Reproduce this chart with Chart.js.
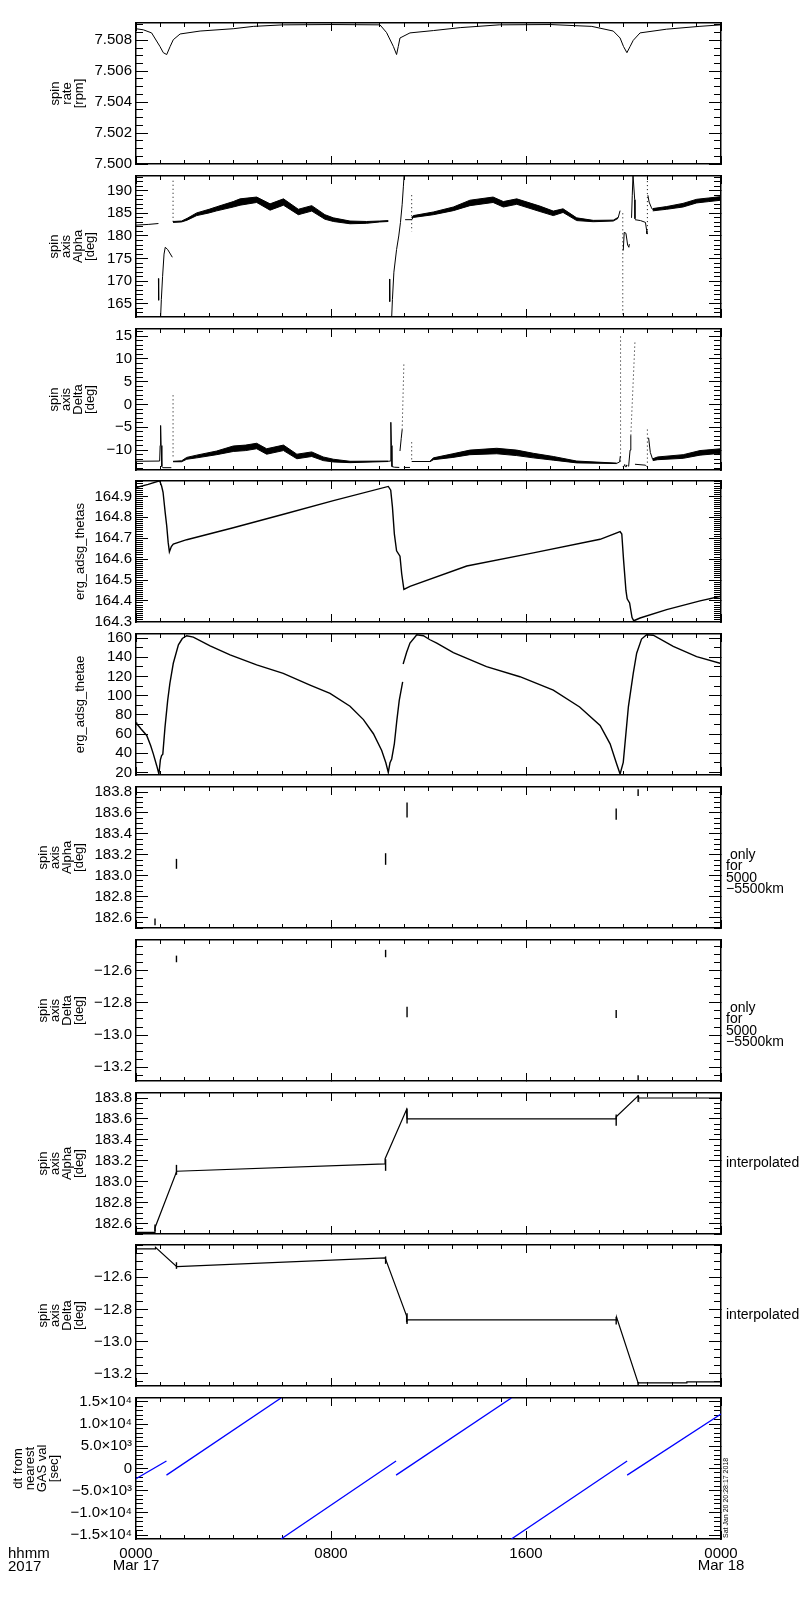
<!DOCTYPE html>
<html>
<head>
<meta charset="utf-8">
<title>ERG spin axis summary 2017-03-17</title>
<script src="https://cdn.jsdelivr.net/npm/chart.js@4.4.0/dist/chart.umd.min.js"></script>
<style>
  body { margin: 0; background: #fff; }
  #page { position: relative; width: 800px; height: 1600px; background: #fff; overflow: hidden; }
  .panel { position: absolute; left: 0; width: 800px; }
</style>
</head>
<body>
<div id="page"></div>
<script>
// time axis: hours after 0000 UT Mar 17 2017
const hourTicks = [0, 8, 16, 24];
const hourLabels = [["0000", "Mar 17"], "0800", "1600", ["0000", "Mar 18"]];

// tick labels per panel
const rateTicks = [7.500, 7.502, 7.504, 7.506, 7.508];
const alphaTicks = [165, 170, 175, 180, 185, 190];
const deltaTicks = [-10, -5, 0, 5, 10, 15];
const thetasTicks = [164.3, 164.4, 164.5, 164.6, 164.7, 164.8, 164.9];
const thetaeTicks = [20, 40, 60, 80, 100, 120, 140, 160];
const alpha2Ticks = [182.6, 182.8, 183.0, 183.2, 183.4, 183.6, 183.8];
const delta2Ticks = [-13.2, -13.0, -12.8, -12.6];
const dtTicks = [-15000, -10000, -5000, 0, 5000, 10000, 15000];

// panel 1: spin rate [rpm]
const spinRate = [[0,7.50875],[0.3,7.50868],[0.64,7.50848],[0.98,7.50761],[1.12,7.5072],[1.26,7.50708],
  [1.4,7.5076],[1.53,7.50804],[1.81,7.50841],[2.63,7.5086],[3.99,7.50875],[4.81,7.5089],[6.04,7.509],
  [8,7.50902],[10.01,7.509],[10.28,7.5085],[10.56,7.5076],[10.69,7.50708],[10.76,7.5076],[10.83,7.50815],
  [11.24,7.50848],[12.2,7.50863],[13.3,7.50882],[14.9,7.509],[17,7.50902],[18.7,7.5089],[19.58,7.5086],
  [19.86,7.50815],[20.0,7.5076],[20.14,7.5072],[20.27,7.5076],[20.4,7.508],[20.68,7.50848],[21.77,7.50872],
  [23.1,7.5089],[24,7.509]];

// panel 2: spin axis alpha [deg]
const alphaLines = [
  [[0,182.4],[0.5,182.55],[0.92,182.75]],
  [[0.92,170.6],[0.93,165.8]],
  [[1.01,162.2],[1.04,166],[1.09,171],[1.15,176],[1.2,177.5],[1.3,177],[1.49,175.3]],
  [[10.4,170.5],[10.41,165.5]],
  [[10.49,162.2],[10.52,166],[10.58,172],[10.69,177],[10.78,180],[10.85,183],[10.92,187],[10.97,191],[11.0,193.5]],
  [[11.04,183.6],[11.31,183.6]],
  [[19.78,184],[19.86,185.6]],
  [[19.99,176.8],[20.03,180.8],[20.1,180.6],[20.17,178],[20.22,177.5],[20.24,178.2]],
  [[20.33,184],[20.36,189],[20.39,193.5],[20.43,193.5],[20.46,188],[20.47,183.8]],
  [[20.47,183.6],[20.7,183.4],[20.9,183.0],[20.95,181.2],[20.96,180.5]],
  [[21.0,189],[21.05,187.5],[21.15,186.2],[21.2,185.8]]
];
const alphaDots = [
  [[1.52,192.2],[1.52,182.6]],
  [[11.31,189],[11.31,181]],
  [[19.97,185],[19.97,162]],
  [[20.98,193],[20.98,180]]
];
// [hour, lower edge, upper edge] of the scattered band
const alphaBands = [
  [[1.52,183.0,183.2],[1.87,183.1,183.3],[2.1,183.5,183.9],[2.49,184.5,185.1],[3.0,185.1,185.9],
   [3.31,185.55,186.45],[3.99,186.4,187.6],[4.27,186.8,188.2],[4.95,187.4,188.6],[5.5,185.7,187.1],
   [6.05,186.8,188.2],[6.66,184.7,185.9],[7.21,185.5,186.7],[7.75,183.7,184.7],[8.1,183.2,184.0],
   [8.78,182.7,183.3],[9.46,182.8,183.2],[10.0,183.1,183.3],[10.35,183.2,183.4]],
  [[11.31,183.6,184.0],[11.38,184.1,184.5],[12.2,184.7,185.3],[13.02,185.6,186.4],[13.7,186.7,187.9],
   [14.65,187.4,188.6],[15.07,186.4,187.6],[15.62,187.0,188.2],[16.57,185.4,186.6],[17.12,184.5,185.5],
   [17.52,185.2,186.0],[18.08,183.4,184.0],[18.76,183.15,183.45],[19.58,183.3,183.5],[19.78,183.9,184.1]],
  [[21.2,185.55,186.05],[21.77,185.9,186.5],[22.44,186.4,187.2],[23.0,187.3,188.1],[23.5,187.6,188.4],
   [24,187.9,188.7]]
];

// panel 3: spin axis delta [deg]
const deltaLines = [
  [[0,-12.45],[0.97,-12.4],[0.99,-9],[1.01,-4.6],[1.03,-9],[1.06,-13.6],[1.1,-13.85],[1.45,-13.85]],
  [[10.35,-12.45],[10.43,-12.4],[10.45,-8],[10.46,-3.9],[10.48,-9],[10.5,-13.6],[10.6,-13.75],[10.8,-13.8]],
  [[10.83,-10.2],[10.88,-7.5],[10.92,-5.5]],
  [[10.99,-13.8],[11.24,-13.8]],
  [[11.31,-12.5],[12.06,-12.5]],
  [[19.72,-12.9],[19.84,-12.6],[19.87,-11.3]],
  [[20.21,-13.6],[20.27,-10],[20.3,-6.8]],
  [[20.47,-13.1],[20.9,-13.3],[20.95,-13.6]],
  [[21.03,-7.3],[21.1,-10.5],[21.2,-12.1]]
];
const deltaDots = [
  [[1.52,2.0],[1.52,-12]],
  [[10.92,-5.5],[10.99,9]],
  [[11.31,-8.3],[11.31,-12.5]],
  [[19.88,14.9],[19.88,-13]],
  [[20.3,-6.8],[20.47,13.8]],
  [[20.98,-5.5],[20.98,-13]]
];
const deltaSpots = [[20.0,-13.6],[20.05,-13.3],[20.1,-13.6],[20.13,-13.4]];
const deltaBands = [
  [[1.52,-12.55,-12.45],[1.87,-12.55,-12.35],[2.08,-12.0,-11.6],[2.49,-11.7,-11.1],[3.31,-11.0,-10.2],
   [3.99,-10.3,-9.1],[4.5,-10.1,-8.9],[4.95,-9.7,-8.5],[5.36,-10.9,-9.7],[6.05,-10.1,-8.9],
   [6.6,-11.9,-10.9],[7.21,-11.4,-10.4],[7.68,-12.3,-11.5],[8.1,-12.6,-12.0],[8.78,-12.75,-12.45],
   [10.35,-12.5,-12.4]],
  [[12.06,-12.55,-12.45],[12.2,-12.1,-11.7],[13.0,-11.6,-10.8],[13.7,-11.0,-10.0],[14.8,-10.8,-9.6],
   [15.62,-11.2,-10.0],[16.3,-11.7,-10.7],[17.12,-12.2,-11.4],[18.08,-12.8,-12.4],[19.72,-12.95,-12.85]],
  [[21.2,-12.3,-11.9],[21.4,-12.1,-11.5],[22.45,-11.8,-11.0],[23.14,-11.1,-10.1],[24,-10.7,-9.7]]
];

// panel 4: erg_adsg_thetas
const thetas = [[0,164.943],[0.5,164.958],[0.97,164.975],[1.05,164.95],[1.11,164.92],[1.2,164.82],
  [1.26,164.76],[1.32,164.68],[1.37,164.635],[1.45,164.66],[1.53,164.672],[2.08,164.693],[3.99,164.75],
  [6.05,164.815],[8.1,164.88],[10.35,164.948],[10.45,164.93],[10.52,164.85],[10.6,164.72],[10.69,164.64],
  [10.83,164.614],[10.9,164.53],[10.99,164.455],[11.24,164.47],[13.57,164.567],[16.3,164.63],
  [19.04,164.695],[19.86,164.732],[19.93,164.72],[20.0,164.6],[20.1,164.45],[20.15,164.41],[20.25,164.39],
  [20.35,164.32],[20.42,164.305],[20.68,164.318],[21.77,164.358],[23.14,164.4],[24,164.422]];

// panel 5: erg_adsg_thetae
const thetaeLines = [
  [[0,72],[0.03,70.8],[0.2,65.5],[0.44,58.5],[0.6,48],[0.71,39.3],[0.85,27],[0.94,18.3],[1.0,33],
   [1.05,37.5],[1.1,39],[1.19,67.2],[1.3,95],[1.39,112.8],[1.53,133.7],[1.74,152.9],[1.9,159.5],
   [2.08,162.4],[2.35,161],[3.04,151.9],[3.86,142.5],[4.95,132],[6.04,123.2],[7.14,111],[7.96,102.3],
   [8.78,88.9],[9.33,75],[9.74,60.3],[10.08,42.8],[10.25,30],[10.35,20],[10.42,30],[10.49,34],
   [10.6,50],[10.7,74],[10.8,95],[10.94,114.4]],
  [[10.96,133],[11.1,145],[11.24,154.7],[11.52,163.4],[11.79,162.4],[12.06,158.2],[12.34,154.7],
   [13.02,144.9],[14.38,130.2],[15.75,119.7],[17.12,105.7],[18.2,88.2],[19.04,69],[19.45,49.8],
   [19.72,28.8],[19.86,18.3],[19.99,30.5],[20.2,88.2],[20.4,123.2],[20.54,144.2],[20.74,158.9],
   [20.95,163.4],[21.22,162.9],[22.04,151.2],[23.0,140.7],[24,133.5]]
];

// panels 6/7: values only for 5000-5500 km  [hour, low, high]
const alphaOnly = [[0.78,182.527,182.591],[1.66,183.066,183.161],[10.24,183.104,183.215],
  [11.12,183.557,183.7],[19.7,183.534,183.642],[20.6,183.762,183.826]];
const deltaOnly = [[1.66,-12.548,-12.507],[10.24,-12.517,-12.471],[11.12,-12.89,-12.824],
  [19.7,-12.894,-12.845],[20.6,-13.285,-13.25]];

// panels 8/9: interpolated
const alphaInterp = [[0,182.516],[0.78,182.516],[0.78,182.56],[1.67,183.1],[10.22,183.17],[10.22,183.22],
  [11.1,183.69],[11.12,183.6],[19.7,183.6],[19.7,183.62],[20.6,183.82],[20.62,183.8],[24,183.8]];
const deltaInterp = [[0,-12.424],[0.78,-12.424],[0.8,-12.414],[1.67,-12.534],[10.22,-12.48],[11.1,-12.84],
  [11.1,-12.88],[11.12,-12.865],[19.7,-12.865],[19.72,-12.85],[20.6,-13.256],[22.6,-13.256],[22.6,-13.25],
  [24,-13.25]];

// panel 10: dt from nearest GAS val [sec]
const dtLines = [
  [[0,-2300],[1.25,1700]],
  [[1.25,-1500],[5.95,15900]],
  [[5.95,-15900],[10.67,1700]],
  [[10.67,-1500],[15.4,15900]],
  [[15.4,-15900],[20.15,1700]],
  [[20.15,-1500],[24,12300]]
];

// ---------------------------------------------------------------
const FONT = '"Liberation Sans", Arial, sans-serif';
Chart.defaults.font.family = FONT;
Chart.defaults.color = "#000";

const PLOT_LEFT = 136, PLOT_RIGHT = 721, FIRST_TOP = 23, STEP = 152.8, PLOT_H = 141;
const XLABEL_H = 40; // room under the last panel for the time labels
const SUP = { "0": "\u2070", "1": "\u00b9", "2": "\u00b2", "3": "\u00b3", "4": "\u2074", "5": "\u2075",
  "6": "\u2076", "7": "\u2077", "8": "\u2078", "9": "\u2079" };

const minus = (s) => String(s).replace("-", "\u2212");
function sci(v) {
  if (v === 0) return "0";
  const a = Math.abs(v);
  const e = Math.floor(Math.log10(a) + 1e-9);
  const m = (a / Math.pow(10, e)).toFixed(1);
  return (v < 0 ? "\u2212" : "") + m + "\u00d710" + String(e).split("").map((c) => SUP[c]).join("");
}

function pts(arr) {
  return arr.map((p) => ({ x: p[0], y: p[1] }));
}
function lineSet(arr, opts) {
  return Object.assign({ data: pts(arr), borderColor: "#000", borderWidth: 1, pointRadius: 0,
    fill: false, xAxisID: "x", yAxisID: "y" }, opts || {});
}
function bandSets(arr) {
  return [
    lineSet(arr.map((p) => [p[0], p[2]])),
    lineSet(arr.map((p) => [p[0], p[1]]), { fill: "-1", backgroundColor: "#000" })
  ];
}
function markSets(arr) {
  return arr.map((m) => lineSet([[m[0], m[1]], [m[0], m[2]]], { borderWidth: 1.4 }));
}
function dotSets(arr) {
  return arr.map((s) => lineSet(s, { borderDash: [1, 3] }));
}

// scale helpers
function fixSize(size, horizontal) {
  return function (scale) {
    if (horizontal) scale.height = size;
    else scale.width = size;
    scale.paddingLeft = scale.paddingRight = scale.paddingTop = scale.paddingBottom = 0;
  };
}
function listTicks(values) {
  return function (scale) {
    scale.ticks = values
      .filter((v) => v >= scale.min - 1e-9 && v <= scale.max + 1e-9)
      .map((v) => ({ value: v }));
  };
}
function stepTicks(step) {
  return function (scale) {
    const out = [];
    for (let k = Math.ceil(scale.min / step - 1e-6); k * step <= scale.max + 1e-9; k++) {
      out.push({ value: +(k * step).toFixed(6) });
    }
    scale.ticks = out;
  };
}
function tickGrid(len) {
  return { display: true, drawOnChartArea: false, drawTicks: true, tickLength: -len,
    tickColor: "#000", tickWidth: 1 };
}
const BOX = { display: true, color: "#000", width: 1.5 };
const NOBOX = { display: false };

function buildScales(p, last) {
  const xs = { type: "linear", min: 0, max: 24 };
  return {
    x: Object.assign({}, xs, {
      position: "bottom", weight: 1, afterBuildTicks: listTicks(hourTicks),
      afterFit: fixSize(last ? XLABEL_H : 0, true),
      grid: tickGrid(8), border: BOX,
      ticks: { display: last, autoSkip: false, maxRotation: 0, minRotation: 0, padding: 16,
        font: { size: 15, lineHeight: 0.85 }, color: "#000",
        callback: (v) => hourLabels[hourTicks.indexOf(v)] }
    }),
    xMinor: Object.assign({}, xs, {
      position: "bottom", weight: 0, afterBuildTicks: stepTicks(1), afterFit: fixSize(0, true),
      grid: tickGrid(4), border: NOBOX, ticks: { display: false }
    }),
    xTop: Object.assign({}, xs, {
      position: "top", weight: 1, afterBuildTicks: listTicks(hourTicks), afterFit: fixSize(0, true),
      grid: tickGrid(8), border: BOX, ticks: { display: false }
    }),
    xTopMinor: Object.assign({}, xs, {
      position: "top", weight: 0, afterBuildTicks: stepTicks(1), afterFit: fixSize(0, true),
      grid: tickGrid(4), border: NOBOX, ticks: { display: false }
    }),
    y: {
      type: "linear", position: "left", weight: 1, min: p.min, max: p.max,
      afterBuildTicks: listTicks(p.major), afterFit: fixSize(PLOT_LEFT, false),
      grid: tickGrid(12), border: BOX,
      ticks: { autoSkip: false, padding: 16, font: { size: 15 }, color: "#000", callback: p.fmt },
      title: { display: true, text: p.title, color: "#000", font: { size: 13, lineHeight: "12px" },
        padding: { top: p.titleX - 6, bottom: 0 } }
    },
    yMinor: {
      type: "linear", position: "left", weight: 0, min: p.min, max: p.max,
      afterBuildTicks: stepTicks(p.minor), afterFit: fixSize(0, false),
      grid: tickGrid(7), border: NOBOX, ticks: { display: false }
    },
    yRight: {
      type: "linear", position: "right", weight: 1, min: p.min, max: p.max,
      afterBuildTicks: listTicks(p.major), afterFit: fixSize(800 - PLOT_RIGHT, false),
      grid: tickGrid(12), border: BOX, ticks: { display: false }
    },
    yRightMinor: {
      type: "linear", position: "right", weight: 0, min: p.min, max: p.max,
      afterBuildTicks: stepTicks(p.minor), afterFit: fixSize(0, false),
      grid: tickGrid(7), border: NOBOX, ticks: { display: false }
    }
  };
}

// extra annotations drawn next to the plot box
const notes = {
  id: "notes",
  afterDraw(chart, args, o) {
    const ctx = chart.ctx, a = chart.chartArea;
    ctx.save();
    ctx.fillStyle = "#000";
    if (o.right) {
      ctx.font = "14px " + FONT;
      ctx.textAlign = "left";
      ctx.textBaseline = "middle";
      o.right.forEach((t, i) => ctx.fillText(t, a.right + 5, a.top + o.rightY + i * 11.5));
    }
    if (o.stamp) {
      ctx.save();
      ctx.translate(a.right + 5, a.bottom - 1);
      ctx.rotate(-Math.PI / 2);
      ctx.font = "7px " + FONT;
      ctx.textAlign = "left";
      ctx.textBaseline = "middle";
      ctx.fillText(o.stamp, 0, 0);
      ctx.restore();
    }
    if (o.corner) {
      ctx.font = "15px " + FONT;
      ctx.textAlign = "left";
      ctx.textBaseline = "middle";
      o.corner.forEach((t, i) => ctx.fillText(t, 8, a.bottom + 15 + i * 12.5));
    }
    ctx.restore();
  }
};

const ONLY = [" only", "for", "5000", "\u22125500km"];
const panels = [
  { title: ["spin", "rate", "[rpm]"], titleX: 55, min: 7.5, max: 7.50912, major: rateTicks, minor: 0.0005,
    fmt: (v) => v.toFixed(3), sets: [lineSet(spinRate)] },
  { title: ["spin", "axis", "Alpha", "[deg]"], titleX: 54, min: 162.1, max: 193.25, major: alphaTicks, minor: 1,
    fmt: (v) => String(v),
    sets: [].concat(alphaLines.map((s) => lineSet(s)), dotSets(alphaDots), ...alphaBands.map(bandSets)) },
  { title: ["spin", "axis", "Delta", "[deg]"], titleX: 54, min: -14.36, max: 16.55, major: deltaTicks, minor: 1,
    fmt: (v) => minus(v),
    sets: [].concat(deltaLines.map((s) => lineSet(s)), dotSets(deltaDots),
      [lineSet(deltaSpots, { showLine: false, pointRadius: 0.8, pointBackgroundColor: "#000", pointBorderWidth: 0 })],
      ...deltaBands.map(bandSets)) },
  { title: "erg_adsg_thetas", titleX: 80, min: 164.299, max: 164.974, major: thetasTicks, minor: 0.01,
    fmt: (v) => v.toFixed(1), sets: [lineSet(thetas, { borderWidth: 1.4 })] },
  { title: "erg_adsg_thetae", titleX: 80, min: 17.3, max: 164.2, major: thetaeTicks, minor: 10,
    fmt: (v) => String(v), sets: thetaeLines.map((s) => lineSet(s, { borderWidth: 1.4 })) },
  { title: ["spin", "axis", "Alpha", "[deg]"], titleX: 43, min: 182.5, max: 183.848, major: alpha2Ticks, minor: 0.05,
    fmt: (v) => v.toFixed(1), sets: markSets(alphaOnly), right: ONLY, rightY: 68 },
  { title: ["spin", "axis", "Delta", "[deg]"], titleX: 43, min: -13.285, max: -12.41, major: delta2Ticks, minor: 0.05,
    fmt: (v) => minus(v.toFixed(1)), sets: markSets(deltaOnly), right: ONLY, rightY: 68 },
  { title: ["spin", "axis", "Alpha", "[deg]"], titleX: 43, min: 182.5, max: 183.848, major: alpha2Ticks, minor: 0.05,
    fmt: (v) => v.toFixed(1), sets: [lineSet(alphaInterp, { borderWidth: 1.2 })].concat(markSets(alphaOnly)),
    right: ["interpolated"], rightY: 70 },
  { title: ["spin", "axis", "Delta", "[deg]"], titleX: 43, min: -13.275, max: -12.4, major: delta2Ticks, minor: 0.05,
    fmt: (v) => minus(v.toFixed(1)), sets: [lineSet(deltaInterp, { borderWidth: 1.2 })].concat(markSets(deltaOnly)),
    right: ["interpolated"], rightY: 70 },
  { title: ["dt from", "nearest", "GAS val", "[sec]"], titleX: 18, min: -15900, max: 15900, major: dtTicks, minor: 1000,
    fmt: sci, sets: dtLines.map((s) => lineSet(s, { borderColor: "#0000ff", borderWidth: 1.3 })),
    stamp: "Sat Jan 20 20:28:17 2018", corner: ["hhmm", "2017"] }
];

const page = document.getElementById("page");
panels.forEach((p, i) => {
  const last = i === panels.length - 1;
  const top = Math.round(FIRST_TOP + i * STEP);
  const padTop = 12, padBottom = last ? 8 : 12;
  const extra = last ? XLABEL_H : 0;
  const div = document.createElement("div");
  div.className = "panel";
  div.style.top = top - padTop + "px";
  div.style.height = PLOT_H + padTop + padBottom + extra + "px";
  const canvas = document.createElement("canvas");
  div.appendChild(canvas);
  page.appendChild(div);

  new Chart(canvas, {
    type: "line",
    data: { datasets: p.sets },
    options: {
      responsive: true,
      maintainAspectRatio: false,
      animation: false,
      events: [],
      layout: { padding: { top: padTop, bottom: padBottom, left: 0, right: 0 } },
      elements: { line: { tension: 0 }, point: { radius: 0 } },
      plugins: {
        legend: { display: false },
        tooltip: { enabled: false },
        notes: { right: p.right, rightY: p.rightY, stamp: p.stamp, corner: p.corner }
      },
      scales: buildScales(p, last)
    },
    plugins: [notes]
  });
});
</script>
</body>
</html>
